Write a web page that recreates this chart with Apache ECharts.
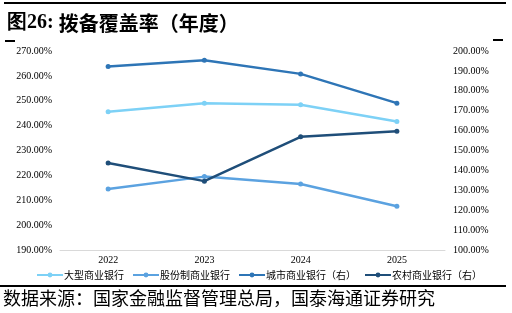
<!DOCTYPE html>
<html><head><meta charset="utf-8">
<script src="https://cdn.jsdelivr.net/npm/echarts@6/dist/echarts.min.js"></script>
<style>html,body{margin:0;padding:0;background:#fff}#c{width:512px;height:313px}</style>
</head><body><div id="c"></div>
<script>
const categories = ['2022','2023','2024','2025'];
const largeBanks = [245.6, 249.0, 248.4, 241.7];
const jointStock = [214.5, 219.5, 216.5, 207.6];
const cityBanks = [192.2, 195.3, 188.5, 173.8];
const ruralBanks = [143.7, 134.6, 156.9, 159.7];
const seriesNames = ['大型商业银行','股份制商业银行','城市商业银行（右）','农村商业银行（右）'];
const colors = ['#7dd1f6','#5ba2e0','#2e75b6','#1f4e79'];

const chart = echarts.init(document.getElementById('c'));
const fmt = v => v.toFixed(2) + '%';
const mk = (i, data, axis) => ({
  name: seriesNames[i], type: 'line', yAxisIndex: axis, data: data,
  symbol: 'circle', symbolSize: 5, lineStyle: {width: 2.5, color: colors[i]},
  itemStyle: {color: colors[i]}, z: 3 + i
});
chart.setOption({
  animation: false,
  color: colors,
  grid: {left: 60, right: 67, top: 51, bottom: 63},
  title: {
    text: '{a|图26:} {b|拨备覆盖率（年度）}', left: 2, top: 8,
    textStyle: {rich: {
      a: {fontFamily: 'Liberation Serif', fontWeight: 'bold', fontSize: 20, color: '#000'},
      b: {fontFamily: 'Noto Sans CJK SC', fontWeight: 'bold', fontSize: 20, color: '#000'}
    }}
  },
  legend: {
    data: seriesNames, left: 31, top: 265, itemWidth: 26, itemHeight: 6, itemGap: 8,
    textStyle: {fontFamily: 'Noto Sans CJK SC', fontSize: 10, color: '#000', padding: [0,0,0,-4]}
  },
  xAxis: {
    type: 'category', data: categories, boundaryGap: true,
    axisLine: {lineStyle: {color: '#d9d9d9', width: 1}}, axisTick: {show: false},
    axisLabel: {fontFamily: 'Liberation Serif', fontSize: 10, color: '#000', margin: 5}
  },
  yAxis: [
    {type: 'value', min: 190, max: 270, interval: 10, splitLine: {show: false},
     axisLine: {show: false}, axisTick: {show: false},
     axisLabel: {formatter: fmt, fontFamily: 'Liberation Serif', fontSize: 10, color: '#000', margin: 8}},
    {type: 'value', min: 100, max: 200, interval: 10, splitLine: {show: false},
     axisLine: {show: false}, axisTick: {show: false},
     axisLabel: {formatter: fmt, fontFamily: 'Liberation Serif', fontSize: 10, color: '#000', margin: 8}}
  ],
  graphic: {elements: [
    {type: 'rect', left: 4, top: 2, z: 100, shape: {width: 502, height: 2}, style: {fill: '#000'}},
    {type: 'rect', left: 5, top: 40, z: 100, shape: {width: 10, height: 2}, style: {fill: '#000'}},
    {type: 'rect', left: 493, top: 39, z: 100, shape: {width: 10, height: 2}, style: {fill: '#000'}},
    {type: 'rect', left: 0, top: 285, z: 100, shape: {width: 506, height: 2}, style: {fill: '#000'}},
    {type: 'text', left: 3, top: 289, style: {text: '数据来源：国家金融监督管理总局，国泰海通证券研究', fontFamily: 'Noto Sans CJK SC', fontSize: 18, fill: '#000'}}
  ]},
  series: [mk(0, largeBanks, 0), mk(1, jointStock, 0), mk(2, cityBanks, 1), mk(3, ruralBanks, 1)]
});
</script></body></html>
